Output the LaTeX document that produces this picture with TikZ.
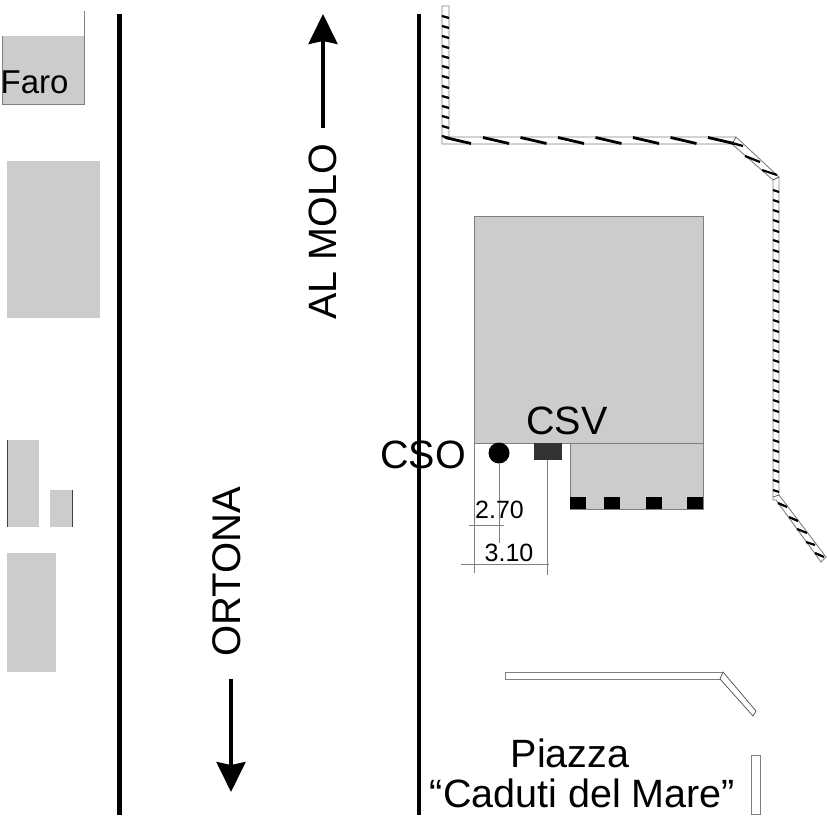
\documentclass[tikz,border=0pt]{standalone}
\usepackage{fontspec}
\setmainfont{Liberation Sans}
\usetikzlibrary{arrows.meta}
\definecolor{blockgray}{HTML}{CCCCCC}
\definecolor{edgegray}{HTML}{808080}
\tikzset{
  road/.style={black,line width=4.5pt},
  block/.style={fill=blockgray,draw=none},
  wall/.style={draw=edgegray,line width=0.9pt,fill=white},
  thinwall/.style={draw=black!70,line width=0.7pt,fill=white},
  hatch/.style={black,line width=2.2pt},
  dimline/.style={edgegray,line width=1pt},
  label/.style={inner sep=0pt,font=\fontsize{39.5}{39.5}\selectfont},
  dimlabel/.style={inner sep=0pt,font=\fontsize{25}{25}\selectfont},
  pointer/.style={black,line width=3.5pt,-{Stealth[width=29pt,length=30pt,inset=3pt]}}
}
\begin{document}
\begin{tikzpicture}[x=1pt,y=-1pt]
  \useasboundingbox[fill=white] (0,0) rectangle (827,827);

  \draw[road] (119.5,14) -- (119.5,815);
  \draw[road] (419,14) -- (419,815);

  \fill[block] (2,36) rectangle (84,104);
  \draw[edgegray,line width=1pt] (2,36) -- (2,104) -- (84,104) -- (84,11);
  \fill[block] (7,161) rectangle (100,318);
  \fill[block] (7,440) rectangle (39,527);
  \fill[block] (50,490) rectangle (73,527);
  \fill[block] (7,553) rectangle (56,672);
  \draw[black!75,line width=1pt] (7.5,440) -- (7.5,527);
  \draw[black!75,line width=1pt] (72.5,490) -- (72.5,527);
  \node[inner sep=0pt,anchor=west,font=\fontsize{33}{33}\selectfont] (faro) at (0.5,82) {Faro};

  \draw[wall] (442,6) -- (449,6) -- (449,137) -- (736,137) -- (779,177) -- (779,495)
    -- (826,557) -- (821,562) -- (776,500) -- (773,500) -- (773,180) -- (732,144) -- (442,144) -- cycle;
  \draw[thinwall,fill=none] (732,144) -- (736,137) (773,180) -- (779,177) (773,497) -- (779,495);
  \foreach \y in {16,26,...,136}
    \draw[hatch] (442,\y) -- (449,\y+2);
  \foreach \y in {190,200,...,490}
    \draw[hatch] (773,\y) -- (779,\y+2);
  \foreach \x in {445,483,520.5,558,595.5,633,670.5,708}
    \draw[hatch,line width=2.8pt] (\x,137.5) -- (\x+26,143.5);
  \draw[hatch] (732,143) -- (743,146);
  \draw[hatch] (745,156) -- (760,162);
  \draw[hatch] (762,170) -- (777,175);
  \draw[hatch] (778,503) -- (787,507);
  \draw[hatch] (789,517) -- (798,521);
  \draw[hatch] (797,529) -- (807,533);
  \draw[hatch] (806,542) -- (815,545);
  \draw[hatch] (815,553) -- (824,557);

  \fill[block] (474,216) rectangle (703,443);
  \draw[edgegray,line width=1pt] (474,443) -- (474,216) -- (703,216) -- (703,443) -- cycle;
  \fill[block] (570,444) rectangle (703,509);
  \draw[edgegray,line width=1pt] (570,444) -- (570,509) -- (703,509) -- (703,444);
  \foreach \x in {570,604,646,687}
    \fill[black] (\x,497) rectangle (\x+15.5,509);

  \node[circle,fill=black,minimum size=21pt,inner sep=0pt] (cso) at (499,453) {};
  \node[rectangle,fill=black!80,minimum width=28pt,minimum height=17pt,inner sep=0pt] (csv) at (547.5,451.5) {};
  \coordinate (csoend) at (499,543);
  \coordinate (csvend) at (547.5,575);
  \coordinate (edgetop) at (474,443);
  \coordinate (edgeend) at (474,573);
  \draw[dimline] (cso) -- (csoend);
  \draw[dimline] (csv) -- (csvend);
  \draw[dimline] (edgetop) -- (edgeend);
  \coordinate (tickaleft) at (469,525);
  \coordinate (tickaright) at (504,525);
  \coordinate (tickbleft) at (461,564.5);
  \coordinate (tickbright) at (549,564.5);
  \draw[dimline] (tickaleft) -- (tickaright);
  \draw[dimline] (tickbleft) -- (tickbright);
  \node[dimlabel] (dista) at (499.5,510) {2.70};
  \node[dimlabel] (distb) at (509,553) {3.10};

  \node[label] (csolabel) at (423,455) {CSO};
  \node[label] (csvlabel) at (567,421) {CSV};

  \node[label,rotate=90] (molo) at (323,232) {AL MOLO};
  \node[label,rotate=90,font=\fontsize{40}{40}\selectfont] (ortona) at (227,571.5) {ORTONA};
  \coordinate (moloend) at (323,14);
  \coordinate (ortonaend) at (231,792);
  \coordinate (molostart) at (323,128);
  \coordinate (ortonastart) at (231,679);
  \draw[pointer] (molostart) -- (moloend);
  \draw[pointer] (ortonastart) -- (ortonaend);

  \draw[thinwall,draw=edgegray] (505,672) rectangle (723,679);
  \draw[thinwall] (723,672) -- (756,711) -- (753,716) -- (720,679) -- cycle;
  \draw[wall] (751,755) rectangle (760,814);

  \node[label] (piazza) at (570,753) {Piazza};
  \node[label] (caduti) at (582.5,793) {“Caduti del Mare”};
\end{tikzpicture}
\end{document}
